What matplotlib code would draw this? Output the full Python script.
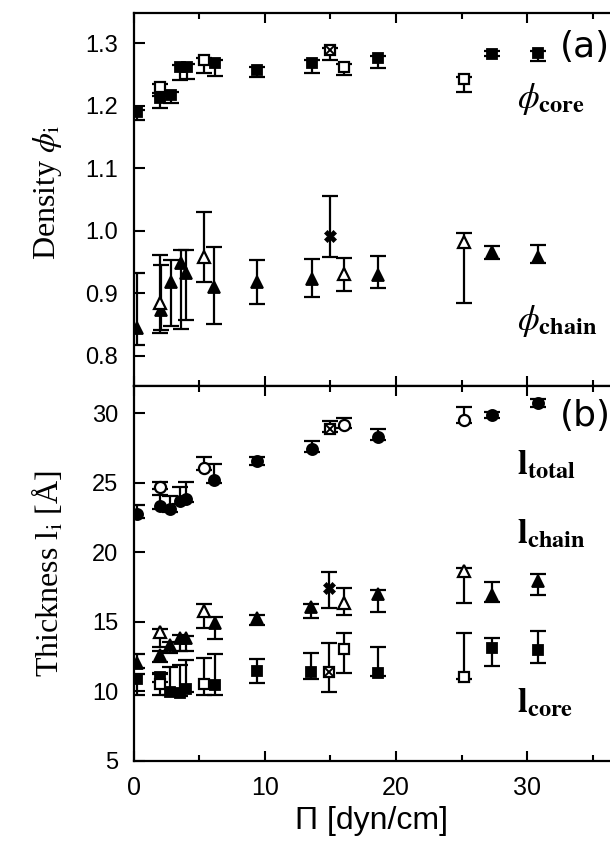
import matplotlib
matplotlib.use('Agg')
import matplotlib.pyplot as plt
from matplotlib.ticker import MultipleLocator, FormatStrFormatter

plt.rcParams['mathtext.fontset'] = 'stix'

# ---------------- data: density (top panel) ----------------
pc_fill_x = [0.3, 2.0, 2.85, 3.55, 4.05, 6.2, 9.4, 13.6, 18.65, 27.3, 30.8]
pc_fill_y = [1.190, 1.212, 1.218, 1.262, 1.263, 1.269, 1.258, 1.269, 1.276, 1.283, 1.284]
pc_fill_lo = [0.012, 0.016, 0.014, 0.020, 0.020, 0.021, 0.012, 0.017, 0.016, 0.004, 0.012]
pc_fill_hi = [0.004, 0.004, 0.004, 0.004, 0.004, 0.004, 0.004, 0.004, 0.004, 0.004, 0.004]

pc_open_x = [2.0, 5.4, 16.0, 25.2]
pc_open_y = [1.231, 1.273, 1.263, 1.243]
pc_open_lo = [0.010, 0.020, 0.014, 0.020]
pc_open_hi = [0.004, 0.004, 0.004, 0.004]

pc_cross_x = [15.0]
pc_cross_y = [1.289]
pc_cross_lo = [0.016]
pc_cross_hi = [0.004]

ph_fill_x = [0.3, 2.1, 2.85, 3.6, 4.0, 6.1, 9.4, 13.6, 18.65, 27.3, 30.8]
ph_fill_y = [0.844, 0.873, 0.919, 0.948, 0.932, 0.911, 0.919, 0.923, 0.929, 0.967, 0.959]
ph_fill_lo = [0.027, 0.031, 0.071, 0.105, 0.074, 0.060, 0.036, 0.028, 0.021, 0.012, 0.011]
ph_fill_hi = [0.088, 0.072, 0.034, 0.021, 0.037, 0.064, 0.034, 0.032, 0.031, 0.009, 0.018]

ph_open_x = [2.0, 5.4, 16.0, 25.2]
ph_open_y = [0.884, 0.959, 0.931, 0.983]
ph_open_lo = [0.048, 0.040, 0.027, 0.099]
ph_open_hi = [0.077, 0.071, 0.025, 0.014]

ph_cross_x = [15.0]
ph_cross_y = [0.992]
ph_cross_lo = [0.034]
ph_cross_hi = [0.064]

# ---------------- data: thickness (bottom panel) ----------------
lt_fill_x = [0.3, 2.0, 2.8, 3.55, 4.0, 6.1, 9.4, 13.6, 18.65, 27.3, 30.8]
lt_fill_y = [22.74, 23.29, 23.10, 23.65, 23.82, 25.20, 26.57, 27.41, 28.27, 29.88, 30.72]
lt_fill_lo = [0.3, 0.2, 0.2, 0.2, 0.2, 0.2, 0.3, 0.2, 0.2, 0.2, 0.3]
lt_fill_hi = [0.66, 0.80, 0.98, 1.07, 1.26, 1.16, 0.30, 0.62, 0.58, 0.20, 0.30]

lt_open_x = [2.0, 5.4, 16.0, 25.2]
lt_open_y = [24.72, 26.09, 29.16, 29.52]
lt_open_lo = [0.2, 0.2, 0.2, 0.2]
lt_open_hi = [0.32, 0.79, 0.52, 0.91]

lt_cross_x = [15.0]
lt_cross_y = [28.85]
lt_cross_lo = [0.2]
lt_cross_hi = [0.6]

lh_fill_x = [0.3, 2.0, 2.8, 3.55, 4.0, 6.2, 9.4, 13.5, 18.65, 27.3, 30.8]
lh_fill_y = [12.07, 12.63, 13.34, 13.83, 13.83, 14.95, 15.26, 16.05, 17.00, 16.94, 17.90]
lh_fill_lo = [0.40, 0.50, 0.60, 0.90, 0.90, 1.19, 0.48, 0.79, 1.26, 0.53, 0.96]
lh_fill_hi = [0.63, 0.30, 0.24, 0.20, 0.17, 0.38, 0.20, 0.25, 0.30, 0.91, 0.53]

lh_open_x = [2.0, 5.4, 16.0, 25.2]
lh_open_y = [14.30, 15.79, 16.34, 18.69]
lh_open_lo = [1.08, 1.25, 0.84, 2.30]
lh_open_hi = [0.20, 0.50, 1.08, 0.20]

lh_cross_x = [14.9]
lh_cross_y = [17.42]
lh_cross_lo = [1.43]
lh_cross_hi = [1.15]

lc_fill_x = [0.3, 2.0, 2.8, 3.55, 4.0, 6.2, 9.4, 13.5, 18.65, 27.3, 30.8]
lc_fill_y = [10.88, 11.00, 9.94, 9.87, 10.16, 10.47, 11.47, 11.42, 11.31, 13.11, 12.96]
lc_fill_lo = [1.13, 0.30, 0.20, 0.20, 0.20, 0.72, 0.88, 0.52, 0.20, 1.28, 0.89]
lc_fill_hi = [0.38, 0.30, 1.84, 2.00, 2.11, 2.23, 0.84, 1.33, 1.87, 0.72, 1.39]

lc_open_x = [2.0, 5.4, 16.0, 25.2]
lc_open_y = [10.54, 10.54, 13.03, 11.07]
lc_open_lo = [0.79, 0.79, 1.72, 0.20]
lc_open_hi = [0.72, 1.89, 1.20, 3.11]

lc_cross_x = [14.9]
lc_cross_y = [11.42]
lc_cross_lo = [1.48]
lc_cross_hi = [2.05]

x_label = 'Π [dyn/cm]'

# ---------------- figure ----------------
fig = plt.figure(figsize=(6.10, 8.43), dpi=100)
ax1 = fig.add_axes([0.2189, 0.5421, 0.7811, 0.4428])
ax2 = fig.add_axes([0.2189, 0.0973, 0.7811, 0.4448])

EB = dict(fmt='none', ecolor='black', elinewidth=1.6, capsize=5.5, capthick=1.6, zorder=2)


def series(ax, x, y, lo, hi, marker, kind, ms=7.5):
    ax.errorbar(x, y, yerr=[lo, hi], **EB)
    if kind == 'fill':
        ax.plot(x, y, ls='none', marker=marker, ms=ms, mfc='black', mec='black', mew=1.3, zorder=3)
    elif kind == 'open':
        ax.plot(x, y, ls='none', marker=marker, ms=ms, mfc='white', mec='black', mew=1.6, zorder=3)
    elif kind == 'xsq':
        ax.plot(x, y, ls='none', marker='s', ms=ms, mfc='white', mec='black', mew=1.6, zorder=3)
        ax.plot(x, y, ls='none', marker='x', ms=ms - 2, mec='black', mew=1.4, zorder=4)
    elif kind == 'star':
        ax.plot(x, y, ls='none', marker='X', ms=ms + 1, mfc='black', mec='black', mew=0.5, zorder=3)


# top panel
series(ax1, pc_fill_x, pc_fill_y, pc_fill_lo, pc_fill_hi, 's', 'fill')
series(ax1, pc_open_x, pc_open_y, pc_open_lo, pc_open_hi, 's', 'open')
series(ax1, pc_cross_x, pc_cross_y, pc_cross_lo, pc_cross_hi, 's', 'xsq')
series(ax1, ph_fill_x, ph_fill_y, ph_fill_lo, ph_fill_hi, '^', 'fill', ms=8.5)
series(ax1, ph_open_x, ph_open_y, ph_open_lo, ph_open_hi, '^', 'open', ms=8.5)
series(ax1, ph_cross_x, ph_cross_y, ph_cross_lo, ph_cross_hi, 'X', 'star')

# bottom panel
series(ax2, lt_fill_x, lt_fill_y, lt_fill_lo, lt_fill_hi, 'o', 'fill', ms=8)
series(ax2, lt_open_x, lt_open_y, lt_open_lo, lt_open_hi, 'o', 'open', ms=8)
series(ax2, lt_cross_x, lt_cross_y, lt_cross_lo, lt_cross_hi, 's', 'xsq')
series(ax2, lh_fill_x, lh_fill_y, lh_fill_lo, lh_fill_hi, '^', 'fill', ms=8.5)
series(ax2, lh_open_x, lh_open_y, lh_open_lo, lh_open_hi, '^', 'open', ms=8.5)
series(ax2, lh_cross_x, lh_cross_y, lh_cross_lo, lh_cross_hi, 'X', 'star')
series(ax2, lc_fill_x, lc_fill_y, lc_fill_lo, lc_fill_hi, 's', 'fill')
series(ax2, lc_open_x, lc_open_y, lc_open_lo, lc_open_hi, 's', 'open')
series(ax2, lc_cross_x, lc_cross_y, lc_cross_lo, lc_cross_hi, 's', 'xsq')

for ax in (ax1, ax2):
    ax.set_xlim(0, 36.29)
    ax.xaxis.set_major_locator(MultipleLocator(10))
    ax.xaxis.set_minor_locator(MultipleLocator(5))
    ax.tick_params(axis='x', which='major', direction='in', length=7, width=1.5,
                   top=True, bottom=True)
    ax.tick_params(axis='x', which='minor', direction='in', length=4, width=1.5,
                   top=True, bottom=True)
    ax.tick_params(axis='y', which='major', direction='in', length=8, width=1.5,
                   left=True, right=False, labelsize=17, pad=11)
    ax.spines['right'].set_visible(False)
    for s in ('left', 'top', 'bottom'):
        ax.spines[s].set_linewidth(1.6)

ax1.set_ylim(0.752, 1.349)
ax1.yaxis.set_major_locator(MultipleLocator(0.1))
ax1.yaxis.set_major_formatter(FormatStrFormatter('%.1f'))
ax1.tick_params(axis='x', labelbottom=False)

ax2.set_ylim(5, 31.95)
ax2.yaxis.set_major_locator(MultipleLocator(5))
ax2.tick_params(axis='x', which='major', labelsize=18, pad=11)

for ax in (ax1, ax2):
    for lab in ax.get_yticklabels() + ax.get_xticklabels():
        lab.set_family(['Liberation Sans', 'DejaVu Sans'])

ax1.set_ylabel(r'Density $\phi_{\rm i}$', family='Liberation Serif', fontsize=23, va='center')
ax1.yaxis.set_label_coords(-0.18, 0.52)
ax2.set_ylabel(r'Thickness l$_{\rm i}$ [Å]', family='Liberation Serif', fontsize=23, va='center')
ax2.yaxis.set_label_coords(-0.18, 0.5)
ax2.set_xlabel(x_label, family=['Liberation Sans', 'DejaVu Sans'], fontsize=23, labelpad=4)

# panel labels and annotations
ax1.text(34.4, 1.294, '(a)', fontsize=26, ha='center', va='center', family='DejaVu Sans')
ax2.text(34.4, 29.8, '(b)', fontsize=26, ha='center', va='center', family='DejaVu Sans')

ax1.text(29.2, 1.211, r'$\phi_{\mathbf{core}}$', fontsize=25, ha='left', va='center')
ax1.text(29.2, 0.856, r'$\phi_{\mathbf{chain}}$', fontsize=25, ha='left', va='center')
ax2.text(29.2, 26.3, r'$\mathbf{l}_{\mathbf{total}}$', fontsize=25, ha='left', va='center')
ax2.text(29.2, 21.4, r'$\mathbf{l}_{\mathbf{chain}}$', fontsize=25, ha='left', va='center')
ax2.text(29.2, 9.25, r'$\mathbf{l}_{\mathbf{core}}$', fontsize=25, ha='left', va='center')

fig.savefig('out.png', dpi=100)
